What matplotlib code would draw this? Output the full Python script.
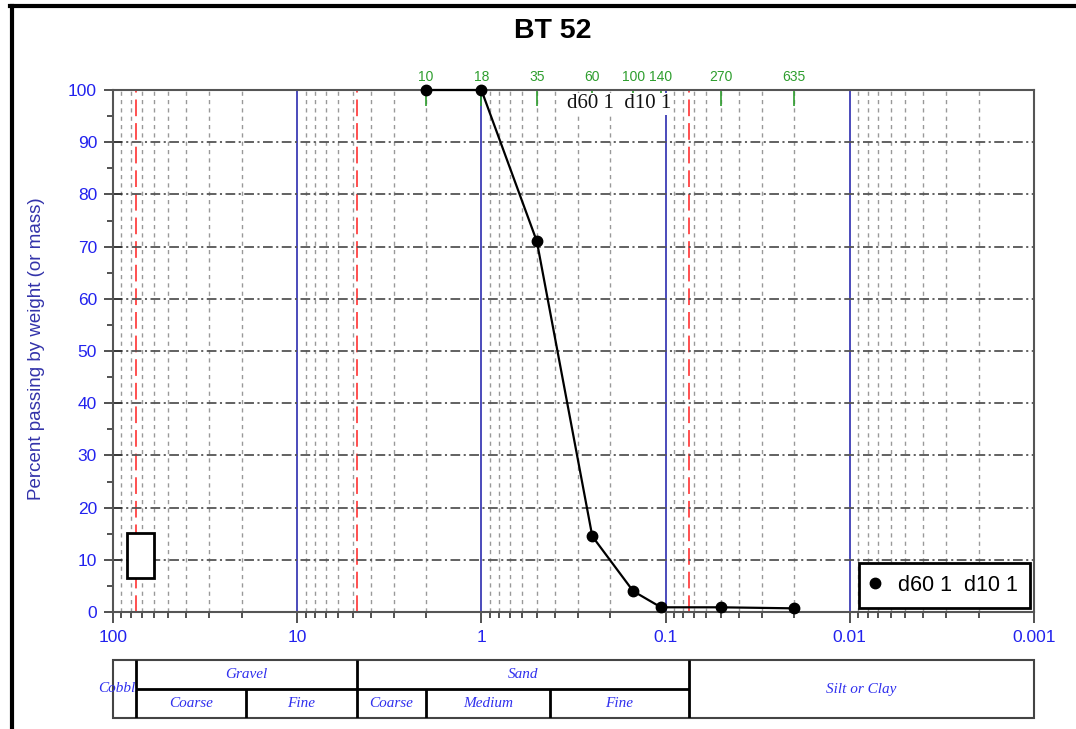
import numpy as np
import matplotlib
matplotlib.use('Agg')
import matplotlib.pyplot as plt
from matplotlib.lines import Line2D
from matplotlib.patches import Rectangle
from matplotlib.transforms import Bbox, TransformedBbox
from matplotlib.ticker import LogLocator, NullFormatter, MultipleLocator

plt.rcParams['font.family'] = ['Liberation Sans', 'DejaVu Sans']
plt.rcParams['lines.scale_dashes'] = False

# sample BT 52
sieve_no = ['10', '18', '35', '60', '100', '140', '270', '635']
grain_mm = [2.0, 1.0, 0.5, 0.25, 0.15, 0.106, 0.05, 0.02]
passing = [100, 100, 71, 14.5, 4, 0.9, 0.9, 0.7]
series_name = 'd60 1  d10 1'

x_ticks = [100, 10, 1, 0.1, 0.01, 0.001]
x_labels = ['100', '10', '1', '0.1', '0.01', '0.001']
blue_lines = [10, 1, 0.1, 0.01]
red_lines = [75, 4.75, 0.075]

# soil classification table (mm limits)
cobble_lim = 75
gravel_split = 19
gravel_sand = 4.75
sand_cm = 2.0
sand_mf = 0.425
sand_silt = 0.075

BLUE = '#2222ee'
GREEN = '#2e9e2e'
W, H = 1076, 729

fig = plt.figure(figsize=(W / 100, H / 100), dpi=100)
ax = fig.add_axes([113 / W, 1 - 612 / H, 921 / W, 522 / H])
ax.set_xscale('log')
ax.set_xlim(100, 0.001)
ax.set_ylim(0, 100)

# grid
ax.xaxis.set_minor_locator(LogLocator(base=10, subs=np.arange(2, 10)))
ax.xaxis.set_minor_formatter(NullFormatter())
ax.grid(which='minor', axis='x', color='#999999', lw=1, linestyle=(0, (3, 3)))
ax.yaxis.set_major_locator(MultipleLocator(10))
ax.yaxis.set_minor_locator(MultipleLocator(5))
ax.grid(which='major', axis='y', color='#555555', lw=1.3, linestyle=(0, (7, 2.5, 1.5, 2.5)))
for v in blue_lines:
    ax.axvline(v, color='#1a1aa8', lw=1.1, zorder=1.5)
for v in red_lines:
    ax.axvline(v, color='#ff2020', lw=1.1, linestyle=(0, (12, 5)), zorder=1.5)

# sieve numbers on top
xt = ax.get_xaxis_transform()
for n, d in zip(sieve_no, grain_mm):
    ax.text(d, 1.012, n, transform=xt, ha='center', va='bottom', fontsize=10, color=GREEN)
ax.vlines(grain_mm, 97, 100, color=GREEN, lw=1.2, zorder=2)

ax.text(0.178, 97.4, series_name, family=['Liberation Serif', 'DejaVu Serif'], fontsize=15,
        ha='center', va='center', color='#111111', zorder=3,
        bbox=dict(facecolor='white', edgecolor='none', pad=1))

ax.plot(grain_mm, passing, color='black', lw=1.6, marker='o', markersize=7.5,
        clip_on=False, zorder=5, label=series_name)

ax.add_patch(Rectangle((14 / 921, 34 / 522), 27 / 921, 45 / 522, transform=ax.transAxes,
                       facecolor='white', edgecolor='black', lw=2, zorder=4))

leg = ax.legend(loc='lower right', bbox_to_anchor=(1.0, 0.0), fontsize=15.5, frameon=True,
                fancybox=False, edgecolor='black', framealpha=1, handlelength=0.4,
                handletextpad=0.85, borderpad=0.55, borderaxespad=0.2)
leg.get_frame().set_linewidth(2)
for h in leg.legend_handles:
    h.set_linestyle('none')

# axes / ticks
ax.set_xticks(x_ticks)
ax.set_xticklabels(x_labels)
ax.tick_params(axis='x', which='major', direction='out', length=8, width=1.2, pad=5,
               labelsize=12.5, labelcolor=BLUE, color='#333333')
ax.tick_params(axis='x', which='minor', direction='out', length=4.5, width=1.2, color='#333333')
ax.tick_params(axis='y', which='major', direction='inout', length=13, width=1.2, pad=5,
               labelsize=12.5, labelcolor=BLUE, color='#333333')
ax.tick_params(axis='y', which='minor', direction='out', length=4.5, width=1.2, color='#333333')
for s in ax.spines.values():
    s.set_color('#555555')
    s.set_linewidth(1.5)

fig.text(37 / W, 1 - 349 / H, 'Percent passing by weight (or mass)', rotation=90,
         ha='center', va='center', fontsize=13.5, color='#3333aa')
fig.text(553 / W, 1 - 31 / H, 'BT 52', ha='center', va='center', fontsize=20.5, fontweight='bold')

# classification table
tab = fig.add_axes([113 / W, 1 - 718 / H, 921 / W, 58 / H])
tab.set_xscale('log')
tab.set_xlim(100, 0.001)
tab.set_ylim(0, 2)
tab.axis('off')
tab.add_patch(Rectangle((0, 0), 1, 1, transform=tab.transAxes, fill=False,
                        edgecolor='#444444', lw=1.5, clip_on=False))
tab.vlines([cobble_lim, gravel_sand, sand_silt], 0, 2, color='black', lw=2)
tab.vlines([gravel_split, sand_cm, sand_mf], 0, 1, color='black', lw=2)
tab.hlines(1, cobble_lim, sand_silt, color='black', lw=2)

serif = ['Liberation Serif', 'DejaVu Serif']


def gmid(a, b):
    return np.sqrt(a * b)


cells = [
    (gmid(cobble_lim, gravel_sand), 1.5, 'Gravel'),
    (gmid(cobble_lim, gravel_split), 0.5, 'Coarse'),
    (gmid(gravel_split, gravel_sand), 0.5, 'Fine'),
    (gmid(gravel_sand, sand_silt), 1.5, 'Sand'),
    (gmid(gravel_sand, sand_cm), 0.5, 'Coarse'),
    (gmid(sand_cm, sand_mf), 0.5, 'Medium'),
    (gmid(sand_mf, sand_silt), 0.5, 'Fine'),
    (gmid(sand_silt, 0.001), 1.0, 'Silt or Clay'),
]
for x, y, s in cells:
    tab.text(x, y, s, ha='center', va='center', family=serif, style='italic',
             fontsize=11, color='#3030ee')

cob = tab.text(88, 1.0, 'Cobbles', ha='center', va='center', family=serif, style='italic',
               fontsize=11, color='#3030ee', clip_on=True)
frac = (np.log10(100) - np.log10(cobble_lim)) / 5
cob.set_clip_box(TransformedBbox(Bbox.from_extents(-0.2, -0.5, frac, 1.5), tab.transAxes))

# outer frame
fig.add_artist(Line2D([10 / W, 1], [1 - 6 / H, 1 - 6 / H], transform=fig.transFigure,
                      color='black', lw=3))
fig.add_artist(Line2D([11.5 / W, 11.5 / W], [0, 1 - 6 / H], transform=fig.transFigure,
                      color='black', lw=3))

fig.savefig('out.png', dpi=100)
